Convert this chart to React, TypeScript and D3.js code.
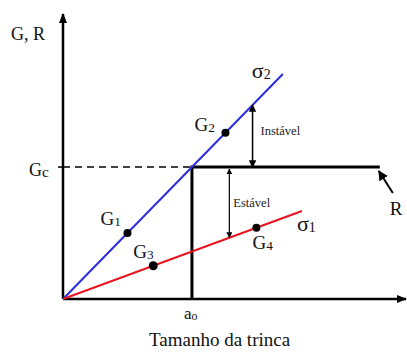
import React from "react";
import * as d3 from "d3";

// Crack size (a) in units of a0, energy release rate in units of Gc
const aAxisMax = [2.66];
const gAxisMax = [2.16];
const criticalA = [1.0];
const criticalG = [1.0];
const resistanceEndA = [2.457];
const sigma2Slope = [1.0];
const sigma2EndA = [1.705];
const sigma1Slope = [0.36];
const sigma1EndA = [1.853];
const pointNames = ["G1", "G2", "G3", "G4"];
const pointCurves = ["s2", "s2", "s1", "s1"];
const pointA = [0.5, 1.26, 0.7, 1.5];
const unstableA = [1.47];
const stableA = [1.29];

const W = 407;
const H = 354;
const serif = "'Liberation Serif', 'Times New Roman', serif";

export default function App() {
  const x = d3.scaleLinear().domain([0, aAxisMax[0]]).range([63, 406]);
  const y = d3.scaleLinear().domain([0, gAxisMax[0]]).range([299, 14]);
  const line = d3.line<[number, number]>().x((d) => x(d[0])).y((d) => y(d[1]));

  const s2 = (a: number) => sigma2Slope[0] * a;
  const s1 = (a: number) => sigma1Slope[0] * a;
  const a0 = criticalA[0];
  const gc = criticalG[0];

  const pts = pointA.map((a, i) => ({
    name: pointNames[i],
    a,
    g: pointCurves[i] === "s2" ? s2(a) : s1(a),
  }));

  const labelOffsets: Record<string, [number, number]> = {
    G1: [-27, -8],
    G2: [-31, -2],
    G3: [-20, -8],
    G4: [-4, 21],
  };

  const sub = (main: string, s: string, size: number, ratio = 0.7) => (
    <>
      {main}
      <tspan fontSize={size * ratio} dy={1}>{s}</tspan>
    </>
  );

  return (
    <svg
      width={W}
      height={H}
      style={{ position: "absolute", left: 0, top: 0, background: "#fff" }}
      fontFamily={serif}
    >
      <defs>
        <marker id="ah" viewBox="0 0 10 10" refX="9" refY="5" markerWidth="5" markerHeight="5" orient="auto-start-reverse">
          <path d="M0,0 L10,5 L0,10 z" fill="#000" />
        </marker>
        <marker id="axh" viewBox="0 0 10 10" refX="9" refY="5" markerWidth="4" markerHeight="4" orient="auto">
          <path d="M0,1 L10,5 L0,9 z" fill="#000" />
        </marker>
      </defs>

      {/* axes */}
      <line x1={x(0)} y1={y(0)} x2={x(0)} y2={y(gAxisMax[0])} stroke="#000" strokeWidth={2.5} markerEnd="url(#axh)" />
      <line x1={x(0)} y1={y(0)} x2={x(aAxisMax[0])} y2={y(0)} stroke="#000" strokeWidth={2.5} markerEnd="url(#axh)" />

      {/* Gc tick and dashed level */}
      <line x1={x(0) - 5} y1={y(gc)} x2={x(0)} y2={y(gc)} stroke="#000" strokeWidth={1.5} />
      <line x1={x(0)} y1={y(gc)} x2={x(a0)} y2={y(gc)} stroke="#000" strokeWidth={1.5} strokeDasharray="7,5" />

      {/* resistance curve R and a0 */}
      <line x1={x(a0)} y1={y(0)} x2={x(a0)} y2={y(gc)} stroke="#000" strokeWidth={3} />
      <line x1={x(a0) - 1.5} y1={y(gc)} x2={x(resistanceEndA[0])} y2={y(gc)} stroke="#000" strokeWidth={3} />

      {/* driving force lines */}
      <path d={line([[0, 0], [sigma2EndA[0], s2(sigma2EndA[0])]]) || ""} stroke="#2b2bdc" strokeWidth={2} fill="none" />
      <path d={line([[0, 0], [sigma1EndA[0], s1(sigma1EndA[0])]]) || ""} stroke="#e8141e" strokeWidth={2} fill="none" />

      {/* unstable / stable gaps */}
      <line x1={x(unstableA[0])} y1={y(s2(unstableA[0]))} x2={x(unstableA[0])} y2={y(gc)} stroke="#000" strokeWidth={1.5} markerStart="url(#ah)" markerEnd="url(#ah)" />
      <line x1={x(stableA[0])} y1={y(gc) + 2} x2={x(stableA[0])} y2={y(s1(stableA[0]))} stroke="#000" strokeWidth={1.2} markerStart="url(#ah)" markerEnd="url(#ah)" />
      <text x={x(unstableA[0]) + 8} y={y(s2(unstableA[0])) + 30} fontSize={12.5} fill="#222">Instável</text>
      <text x={x(stableA[0]) + 4} y={y(gc) + 40} fontSize={12.5} fill="#222">Estável</text>

      {/* points */}
      {pts.map((p) => (
        <g key={p.name}>
          <circle cx={x(p.a)} cy={y(p.g)} r={p.name === "G3" ? 4.5 : 4} fill="#000" />
          <text x={x(p.a) + labelOffsets[p.name][0]} y={y(p.g) + labelOffsets[p.name][1]} fontSize={19} fill="#111">
            {sub("G", p.name.slice(1), 19)}
          </text>
        </g>
      ))}

      {/* R pointer */}
      <line x1={x(resistanceEndA[0]) + 13} y1={y(gc) + 26} x2={x(resistanceEndA[0]) - 1} y2={y(gc) + 4} stroke="#000" strokeWidth={2} markerEnd="url(#ah)" />
      <text x={x(resistanceEndA[0]) + 10} y={y(gc) + 48} fontSize={19} fill="#111">R</text>

      {/* curve labels */}
      <text x={x(sigma2EndA[0]) - 31} y={y(s2(sigma2EndA[0])) + 4} fontSize={22} fill="#111">
        {sub("σ", "2", 20)}
      </text>
      <text x={x(sigma1EndA[0]) - 5} y={y(s1(sigma1EndA[0])) + 20} fontSize={22} fill="#111">
        {sub("σ", "1", 20)}
      </text>

      {/* axis labels */}
      <text x={11} y={40} fontSize={18} fill="#111">G, R</text>
      <text x={29} y={176} fontSize={18} fill="#111">
        {sub("G", "c", 18, 0.85)}
      </text>
      <text x={x(a0) - 8} y={319} fontSize={17} fill="#111">
        {sub("a", "o", 17)}
      </text>
      <text x={149} y={346} fontSize={19} fill="#111">Tamanho da trinca</text>
    </svg>
  );
}
